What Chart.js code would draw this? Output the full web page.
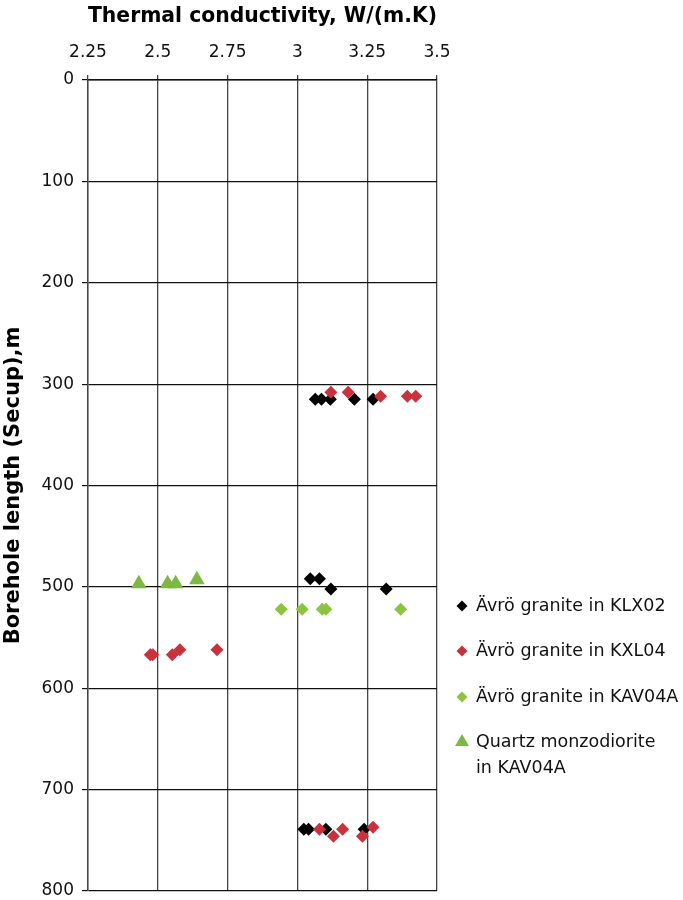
<!DOCTYPE html>
<html>
<head>
<meta charset="utf-8">
<script src="https://cdn.jsdelivr.net/npm/chart.js@4"></script>
<style>
  html, body { margin: 0; padding: 0; background: #fff; }
  canvas { display: block; }
</style>
</head>
<body>
<canvas id="chart" width="683" height="900"></canvas>
<script>
// ---- axis ticks ----
const conductivityTicks = [2.25, 2.5, 2.75, 3, 3.25, 3.5];
const depthTicks = [0, 100, 200, 300, 400, 500, 600, 700, 800];

// ---- Ävrö granite in KLX02 ----
const klx02Cond  = [3.064, 3.086, 3.118, 3.204, 3.271, 3.046, 3.079, 3.120, 3.318, 3.023, 3.040, 3.102, 3.239];
const klx02Depth = [315,   315,   315,   315,   315,   492,   492,   502,   502,   739,   739,   739,   739];

// ---- Ävrö granite in KXL04 ----
const kxl04Cond  = [3.120, 3.182, 3.298, 3.394, 3.424, 2.473, 2.482, 2.552, 2.579, 2.712, 3.079, 3.129, 3.162, 3.233, 3.271];
const kxl04Depth = [308,   308,   312,   312,   312,   567,   567,   567,   562,   562,   739,   746,   739,   746,   737];

// ---- Ävrö granite in KAV04A ----
const kav04aGraniteCond  = [2.942, 3.017, 3.089, 3.102, 3.370];
const kav04aGraniteDepth = [522,   522,   522,   522,   522];

// ---- Quartz monzodiorite in KAV04A ----
const kav04aQuartzCond  = [2.432, 2.535, 2.564, 2.640];
const kav04aQuartzDepth = [497,   497,   497,   493];

const seriesLabels = [
  ['Ävrö granite in KLX02'],
  ['Ävrö granite in KXL04'],
  ['Ävrö granite in KAV04A'],
  ['Quartz monzodiorite', 'in KAV04A']
];

const BLACK = '#000000';
const RED = '#c9323d';
const GREEN_D = '#8cc43f';
const GREEN_T = '#7db843';
const FONT = "'DejaVu Sans', 'Liberation Sans', Arial, sans-serif";

function pts(xs, ys) { return xs.map((x, i) => ({ x: x, y: ys[i] })); }

Chart.defaults.font.family = FONT;
Chart.defaults.color = '#111';

// Legend drawn at the right of the plot, with a two-line entry for the last series
const sideLegend = {
  id: 'sideLegend',
  afterDraw(chart) {
    const ctx = chart.ctx;
    const markerX = 462;
    const textX = 476;
    const rowY = [606, 651, 697, 742];
    ctx.save();
    ctx.font = '17.5px ' + FONT;
    ctx.textBaseline = 'middle';
    ctx.textAlign = 'left';
    chart.data.datasets.forEach((ds, i) => {
      const y = rowY[i];
      ctx.fillStyle = ds.backgroundColor;
      ctx.beginPath();
      if (ds.pointStyle === 'triangle') {
        const r = 8;
        ctx.moveTo(markerX, y - r);
        ctx.lineTo(markerX + r * 0.866, y + r / 2);
        ctx.lineTo(markerX - r * 0.866, y + r / 2);
      } else {
        const r = 5.5;
        ctx.moveTo(markerX, y - r);
        ctx.lineTo(markerX + r, y);
        ctx.lineTo(markerX, y + r);
        ctx.lineTo(markerX - r, y);
      }
      ctx.closePath();
      ctx.fill();
      ctx.fillStyle = '#111';
      seriesLabels[i].forEach((line, k) => {
        ctx.fillText(line, textX, y + k * 26);
      });
    });
    ctx.restore();
  }
};

new Chart(document.getElementById('chart'), {
  type: 'scatter',
  data: {
    datasets: [
      {
        label: seriesLabels[0].join(' '),
        data: pts(klx02Cond, klx02Depth),
        pointStyle: 'rectRot', pointRadius: 6.5, pointHoverRadius: 6.5,
        backgroundColor: BLACK, borderColor: BLACK, borderWidth: 0,
        order: 4
      },
      {
        label: seriesLabels[1].join(' '),
        data: pts(kxl04Cond, kxl04Depth),
        pointStyle: 'rectRot', pointRadius: 6.5, pointHoverRadius: 6.5,
        backgroundColor: RED, borderColor: RED, borderWidth: 0,
        order: 3
      },
      {
        label: seriesLabels[2].join(' '),
        data: pts(kav04aGraniteCond, kav04aGraniteDepth),
        pointStyle: 'rectRot', pointRadius: 6.5, pointHoverRadius: 6.5,
        backgroundColor: GREEN_D, borderColor: GREEN_D, borderWidth: 0,
        order: 2
      },
      {
        label: seriesLabels[3].join(' '),
        data: pts(kav04aQuartzCond, kav04aQuartzDepth),
        pointStyle: 'triangle', pointRadius: 9, pointHoverRadius: 9,
        backgroundColor: GREEN_T, borderColor: GREEN_T, borderWidth: 0,
        order: 1
      }
    ]
  },
  options: {
    responsive: false,
    animation: false,
    events: [],
    layout: { padding: { left: 0, top: 0, right: 246, bottom: 8 } },
    plugins: {
      legend: { display: false },
      tooltip: { enabled: false }
    },
    scales: {
      x: {
        type: 'linear',
        position: 'top',
        min: 2.25,
        max: 3.5,
        afterBuildTicks: (s) => { s.ticks = conductivityTicks.map(v => ({ value: v })); },
        afterFit: (s) => { s.height = 80; s.paddingLeft = 0; s.paddingRight = 0; },
        ticks: {
          callback: (v) => String(v),
          font: { size: 17 },
          color: '#111',
          padding: 12,
          maxRotation: 0
        },
        grid: { color: '#444', lineWidth: 1.3, tickLength: 5, drawTicks: true },
        border: { display: true, color: '#111', width: 1.4 },
        title: {
          display: true,
          text: 'Thermal conductivity, W/(m.K)',
          font: { size: 21, weight: 'bold' },
          color: '#000',
          padding: { top: 4, bottom: 0 }
        }
      },
      y: {
        type: 'linear',
        reverse: true,
        min: 0,
        max: 800,
        afterBuildTicks: (s) => { s.ticks = depthTicks.map(v => ({ value: v })); },
        afterFit: (s) => { s.width = 88; s.paddingTop = 0; s.paddingBottom = 0; },
        ticks: {
          font: { size: 17, lineHeight: 0.9 },
          color: '#111',
          padding: 8
        },
        grid: { color: '#111', lineWidth: 1.2, tickLength: 6, drawTicks: true },
        border: { display: true, color: '#444', width: 1.4 },
        title: {
          display: true,
          text: 'Borehole length (Secup),m',
          font: { size: 21, weight: 'bold' },
          color: '#000',
          padding: { top: 1, bottom: 0 }
        }
      }
    }
  },
  plugins: [sideLegend]
});
</script>
</body>
</html>
